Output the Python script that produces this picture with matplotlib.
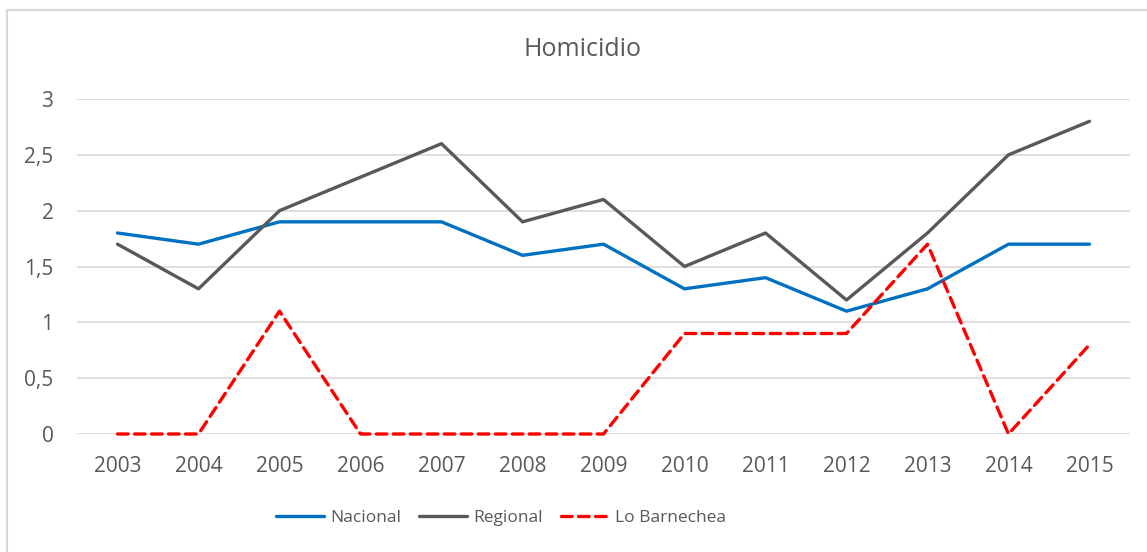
import numpy as np
import matplotlib.pyplot as plt
from matplotlib.patches import Rectangle

# homicide rates per year
years = ['2003', '2004', '2005', '2006', '2007', '2008', '2009',
         '2010', '2011', '2012', '2013', '2014', '2015']
nacional = [1.8, 1.7, 1.9, 1.9, 1.9, 1.6, 1.7, 1.3, 1.4, 1.1, 1.3, 1.7, 1.7]
regional = [1.7, 1.3, 2.0, 2.3, 2.6, 1.9, 2.1, 1.5, 1.8, 1.2, 1.8, 2.5, 2.8]
barnechea = [0, 0, 1.1, 0, 0, 0, 0, 0.9, 0.9, 0.9, 1.7, 0, 0.8]
yticks = [0, 0.5, 1, 1.5, 2, 2.5, 3]
ylabels = ['0', '0,5', '1', '1,5', '2', '2,5', '3']

plt.rcParams['font.family'] = ['Open Sans', 'DejaVu Sans']
txt = '#595959'

fig = plt.figure(figsize=(11.47, 5.52), dpi=100)
W, H = 1147, 552

# chart frame
fig.patches.append(Rectangle((7 / W, -0.1), 1.2, 1 - 10 / H + 0.1,
                             transform=fig.transFigure, fill=False,
                             edgecolor='#D9D9D9', linewidth=1.5))

ax = fig.add_axes([77 / W, 1 - 434 / H, (1130 - 77) / W, (434 - 99) / H])
x = np.arange(len(years))

ax.plot(x, nacional, color='#0070C0', lw=2.4, label='Nacional',
        solid_capstyle='round', clip_on=False, zorder=3)
ax.plot(x, regional, color='#595959', lw=2.4, label='Regional',
        solid_capstyle='round', clip_on=False, zorder=3)
ax.plot(x, barnechea, color='#FF0000', lw=2.4, label='Lo Barnechea',
        linestyle=(0, (3.2, 1.9)), dash_capstyle='round', clip_on=False, zorder=4)

ax.set_xlim(-0.5, len(years) - 0.5)
ax.set_ylim(0, 3)
ax.set_xticks(x)
ax.set_xticklabels(years)
ax.set_yticks(yticks)
ax.set_yticklabels(ylabels)
ax.tick_params(length=0, labelsize=15, colors=txt)
ax.tick_params(axis='x', pad=16)
ax.tick_params(axis='y', pad=17)
ax.grid(axis='y', color='#D9D9D9', lw=1.2)
ax.set_axisbelow(True)
for s in ax.spines.values():
    s.set_visible(False)

fig.text(582 / W, 1 - 49 / H, 'Homicidio', ha='center', va='center',
         fontsize=18, color=txt)

fig.legend(loc='center', bbox_to_anchor=(501 / W, 1 - 518 / H), ncol=3,
           frameon=False, fontsize=12.5, labelcolor=txt, handlelength=2.8,
           handletextpad=0.35, columnspacing=1.0)

fig.savefig('out.png', dpi=100)
